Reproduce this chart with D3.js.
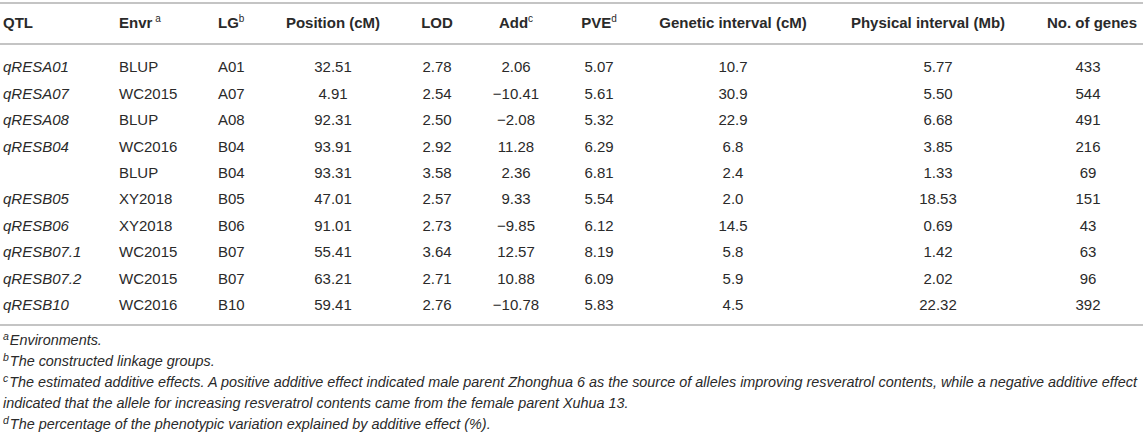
<!DOCTYPE html>
<html>
<head>
<meta charset="utf-8">
<script src="https://cdn.jsdelivr.net/npm/d3@7"></script>
<style>
  body { margin: 0; background: #fff; }
  svg { display: block; font-family: "Liberation Sans", Arial, Helvetica, sans-serif; }
</style>
</head>
<body>
<svg id="svg" width="1143" height="434"></svg>
<script>
//Table data
const QTL_NAMES = ["qRESA01", "qRESA07", "qRESA08", "qRESB04", "", "qRESB05", "qRESB06", "qRESB07.1", "qRESB07.2", "qRESB10"];
const ENVIRONMENTS = ["BLUP", "WC2015", "BLUP", "WC2016", "BLUP", "XY2018", "XY2018", "WC2015", "WC2015", "WC2016"];
const LINKAGE_GROUPS = ["A01", "A07", "A08", "B04", "B04", "B05", "B06", "B07", "B07", "B10"];
const POSITIONS = [32.51, 4.91, 92.31, 93.91, 93.31, 47.01, 91.01, 55.41, 63.21, 59.41];
const LOD_SCORES = [2.78, 2.54, 2.50, 2.92, 3.58, 2.57, 2.73, 3.64, 2.71, 2.76];
const ADDITIVE_EFFECTS = [2.06, -10.41, -2.08, 11.28, 2.36, 9.33, -9.85, 12.57, 10.88, -10.78];
const PVE_VALUES = [5.07, 5.61, 5.32, 6.29, 6.81, 5.54, 6.12, 8.19, 6.09, 5.83];
const GENETIC_INTERVALS = [10.7, 30.9, 22.9, 6.8, 2.4, 2.0, 14.5, 5.8, 5.9, 4.5];
const PHYSICAL_INTERVALS = [5.77, 5.50, 6.68, 3.85, 1.33, 18.53, 0.69, 1.42, 2.02, 22.32];
const GENE_COUNTS = [433, 544, 491, 216, 69, 151, 43, 63, 96, 392];

const HEADERS = ["QTL", "Envr", "LG", "Position (cM)", "LOD", "Add", "PVE", "Genetic interval (cM)", "Physical interval (Mb)", "No. of genes"];
const HEADER_MARKS = ["", " a", "b", "", "", "c", "d", "", "", ""];

const FOOTNOTE_MARKS = ["a", "b", "c", "", "d"];
const FOOTNOTES = [
    "Environments.",
    "The constructed linkage groups.",
    "The estimated additive effects. A positive additive effect indicated male parent Zhonghua 6 as the source of alleles improving resveratrol contents, while a negative additive effect",
    "indicated that the allele for increasing resveratrol contents came from the female parent Xuhua 13.",
    "The percentage of the phenotypic variation explained by additive effect (%)."
];

//Layout
const TEXT_COLOR = "#2a2a2a";
const RULE_COLOR = "#c4c4c4";
const f2 = d3.format(".2f");
const f1 = d3.format(".1f");

const COLUMNS = [
    { values: QTL_NAMES,          fmt: d => d,  x: 3,    anchor: "start",  italic: true },
    { values: ENVIRONMENTS,       fmt: d => d,  x: 119,  anchor: "start" },
    { values: LINKAGE_GROUPS,     fmt: d => d,  x: 218,  anchor: "start" },
    { values: POSITIONS,          fmt: f2,      x: 333,  anchor: "middle" },
    { values: LOD_SCORES,         fmt: f2,      x: 437,  anchor: "middle" },
    { values: ADDITIVE_EFFECTS,   fmt: f2,      x: 516,  anchor: "middle" },
    { values: PVE_VALUES,         fmt: f2,      x: 599,  anchor: "middle" },
    { values: GENETIC_INTERVALS,  fmt: f1,      x: 733,  anchor: "middle" },
    { values: PHYSICAL_INTERVALS, fmt: f2,      x: 938,  anchor: "middle" },
    { values: GENE_COUNTS,        fmt: d => d,  x: 1088, anchor: "middle" }
];
const HEADER_X = [3, 119, 218, 333, 437, 516, 599, 733, 928, 1092];

let svg = d3.select("#svg");

//Row scales
let y_scale = d3.scaleBand().domain(d3.range(QTL_NAMES.length)).range([54, 318]);
let foot_scale = d3.scalePoint().domain(d3.range(FOOTNOTES.length)).range([345, 429]);

//Rules
[3, 44, 325].forEach(y => {
    svg.append("line")
        .attr("x1", 0).attr("x2", 1143)
        .attr("y1", y).attr("y2", y)
        .attr("stroke", RULE_COLOR)
        .attr("stroke-width", 2);
});

//Header
let header = svg.append("g").attr("fill", TEXT_COLOR);
HEADERS.forEach((h, i) => {
    let t = header.append("text")
        .attr("x", HEADER_X[i])
        .attr("y", 23)
        .attr("dy", "0.35em")
        .attr("font-size", 15)
        .attr("font-weight", "bold")
        .attr("text-anchor", COLUMNS[i].anchor)
        .text(h);
    if (HEADER_MARKS[i] !== "") {
        t.append("tspan")
            .attr("font-weight", "normal")
            .attr("font-size", 10)
            .attr("dy", "-0.6em")
            .text(HEADER_MARKS[i]);
    }
});

//Body cells
COLUMNS.forEach(col => {
    svg.append("g")
        .selectAll("text")
        .data(col.values)
        .enter().append("text")
        .attr("x", col.x)
        .attr("y", (d, i) => y_scale(i) + y_scale.bandwidth() / 2)
        .attr("dy", "0.35em")
        .attr("font-size", 15)
        .attr("font-style", col.italic ? "italic" : "normal")
        .attr("text-anchor", col.anchor)
        .attr("fill", TEXT_COLOR)
        .text(d => col.fmt(d));
});

//Footnotes
let notes = svg.append("g")
    .selectAll("text")
    .data(FOOTNOTES)
    .enter().append("text")
    .attr("x", 3)
    .attr("y", (d, i) => foot_scale(i))
    .attr("dy", "0.35em")
    .attr("font-size", 14.4)
    .attr("font-style", "italic")
    .attr("fill", TEXT_COLOR);
notes.append("tspan")
    .attr("font-size", 10.5)
    .attr("dy", "-0.5em")
    .text((d, i) => FOOTNOTE_MARKS[i]);
notes.append("tspan")
    .attr("dy", (d, i) => FOOTNOTE_MARKS[i] === "" ? 0 : "0.36em")
    .attr("dx", (d, i) => FOOTNOTE_MARKS[i] === "" ? 0 : 1)
    .text(d => d);
</script>
</body>
</html>
